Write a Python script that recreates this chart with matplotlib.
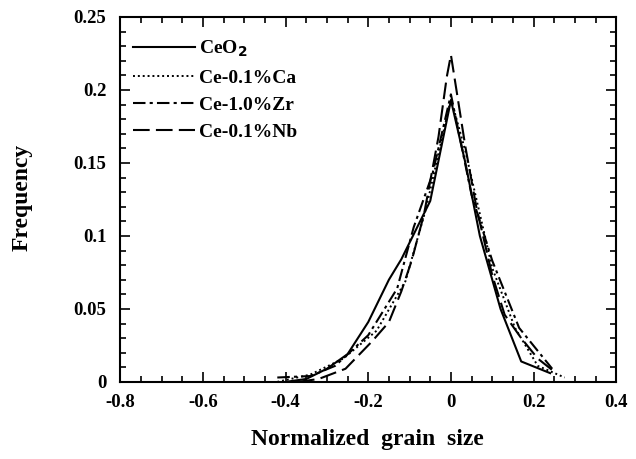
import matplotlib
matplotlib.use('Agg')
import matplotlib.pyplot as plt
from matplotlib.ticker import MultipleLocator

plt.rcParams['font.family'] = 'Liberation Serif'
plt.rcParams['font.weight'] = 'bold'

# CeO2 (solid)
x_ceo2 = [-0.40, -0.35, -0.30, -0.25, -0.20, -0.15, -0.12, -0.05, 0.0, 0.035, 0.07, 0.12, 0.17, 0.24]
y_ceo2 = [0.0, 0.002, 0.009, 0.019, 0.041, 0.070, 0.084, 0.124, 0.193, 0.150, 0.100, 0.050, 0.014, 0.006]

# Ce-0.1%Ca (dotted)
x_ca = [-0.42, -0.34, -0.26, -0.18, -0.11, -0.06, 0.0, 0.035, 0.10, 0.155, 0.21, 0.275]
y_ca = [0.0, 0.005, 0.016, 0.035, 0.069, 0.119, 0.194, 0.158, 0.078, 0.037, 0.011, 0.003]

# Ce-1.0%Zr (dash-dot)
x_zr = [-0.42, -0.34, -0.28, -0.20, -0.13, -0.09, -0.045, 0.0, 0.05, 0.10, 0.165, 0.245]
y_zr = [0.003, 0.004, 0.011, 0.032, 0.064, 0.106, 0.142, 0.197, 0.128, 0.083, 0.037, 0.009]

# Ce-0.1%Nb (long dash)
x_nb = [-0.37, -0.32, -0.255, -0.19, -0.15, -0.12, -0.095, -0.065, -0.03, -0.01, 0.0, 0.035, 0.062, 0.10, 0.13, 0.17, 0.21, 0.25]
y_nb = [0.0, 0.002, 0.009, 0.028, 0.041, 0.062, 0.083, 0.115, 0.168, 0.209, 0.224, 0.161, 0.119, 0.073, 0.046, 0.030, 0.016, 0.007]

xtick_vals = [-0.8, -0.6, -0.4, -0.2, 0, 0.2, 0.4]
xtick_text = ['-0.8', '-0.6', '-0.4', '-0.2', '0', '0.2', '0.4']
ytick_vals = [0, 0.05, 0.1, 0.15, 0.2, 0.25]
ytick_text = ['0', '0.05', '0.1', '0.15', '0.2', '0.25']

fig = plt.figure(figsize=(6.36, 4.59), dpi=100)
ax = fig.add_axes([0.189, 0.168, 0.78, 0.795])

ax.plot(x_ceo2, y_ceo2, color='black', lw=1.5, ls='-', label='CeO$_\\mathbf{2}$')
ax.plot(x_ca, y_ca, color='black', lw=1.4, ls=(0, (1, 1.5)), label='Ce-0.1%Ca')
ax.plot(x_zr, y_zr, color='black', lw=1.5, ls=(0, (6, 2, 1.5, 2)), label='Ce-1.0%Zr')
ax.plot(x_nb, y_nb, color='black', lw=1.5, ls=(0, (8, 3)), label='Ce-0.1%Nb')

ax.set_xlim(-0.8, 0.4)
ax.set_ylim(0, 0.25)
ax.xaxis.set_minor_locator(MultipleLocator(0.05))
ax.yaxis.set_minor_locator(MultipleLocator(0.01))
ax.set_xticks(xtick_vals)
ax.set_xticklabels(xtick_text)
ax.set_yticks(ytick_vals)
ax.set_yticklabels(ytick_text)
ax.tick_params(which='both', direction='in', top=True, right=True, width=1.2)
ax.tick_params(which='major', length=7, labelsize=13.5)
ax.tick_params(axis='x', which='major', pad=9)
ax.tick_params(axis='y', which='major', pad=10)
ax.tick_params(which='minor', length=4)
for s in ax.spines.values():
    s.set_linewidth(1.5)

ax.set_xlabel('Normalized  grain  size', fontsize=17, fontweight='bold')
ax.set_ylabel('Frequency', fontsize=17, fontweight='bold')
ax.xaxis.label.set_va('center')
ax.yaxis.label.set_va('center')
ax.xaxis.set_label_coords(0.498, -0.158)
ax.yaxis.set_label_coords(-0.198, 0.505)

ax.legend(loc='upper left', frameon=False, fontsize=14, handlelength=3.2,
          labelspacing=0.5, handletextpad=0.2, borderpad=0, borderaxespad=0,
          bbox_to_anchor=(0.026, 0.94))

fig.savefig('out.png', dpi=100)
